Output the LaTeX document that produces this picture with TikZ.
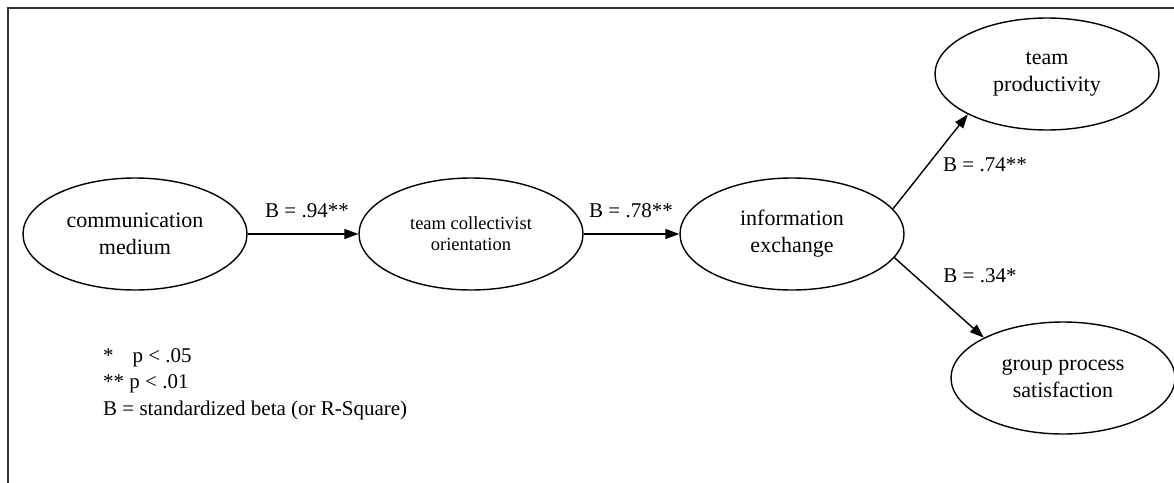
\documentclass[tikz,border=0pt]{standalone}
\usepackage{fontspec}
\setmainfont{Liberation Serif}
\usetikzlibrary{shapes.geometric,arrows.meta}

\tikzset{
  construct/.style={draw, line width=1.4pt, ellipse, minimum width=224pt, minimum height=112pt,
    inner sep=0pt, align=center, font=\fontsize{22}{27}\selectfont},
  smallconstruct/.style={construct, font=\fontsize{18.5}{21}\selectfont},
  path/.style={line width=1.4pt, -{Triangle[length=14pt,width=10pt]}},
  beta/.style={font=\fontsize{21}{25}\selectfont, inner sep=0pt},
  legend/.style={font=\fontsize{21}{25}\selectfont, inner sep=0pt, anchor=base west},
  frame/.style={line width=2.6pt, draw=black!80}
}

\begin{document}
\begin{tikzpicture}[x=1pt,y=-1pt]
  \useasboundingbox (0,0) rectangle (1174,482);

  % outer frame (continues past the right and bottom edges)
  \coordinate (fbl) at (8,490);
  \coordinate (ftl) at (8,8);
  \coordinate (ftr) at (1180,8);
  \draw[frame] (fbl) -- (ftl) -- (ftr);

  % constructs
  \node[construct]      (cm) at (135,234)  {communication\\medium};
  \node[smallconstruct] (tc) at (471,234)  {team collectivist\\orientation};
  \node[construct]      (ie) at (792,234)  {information\\exchange};
  \node[construct]      (tp) at (1047,74)  {team\\productivity};
  \node[construct]      (gs) at (1063,378) {group process\\satisfaction};

  % paths
  \draw[path] (cm.east) -- (tc.west);
  \draw[path] (tc.east) -- (ie.west);
  \draw[path] (ie.14)  -- (tp.207);
  \draw[path] (ie.-13) -- (gs.153);

  % path coefficients
  \node[beta] (b1) at (307,211) {B = .94**};
  \node[beta] (b2) at (631,211) {B = .78**};
  \node[beta] (b3) at (985,165) {B = .74**};
  \node[beta] (b4) at (980,276) {B = .34*};

  % legend
  \node[legend] (l1) at (103,362) {*\hspace{0.9em}p < .05};
  \node[legend] (l2) at (103,388) {** p < .01};
  \node[legend] (l3) at (103,415) {B = standardized beta (or R-Square)};
\end{tikzpicture}
\end{document}
